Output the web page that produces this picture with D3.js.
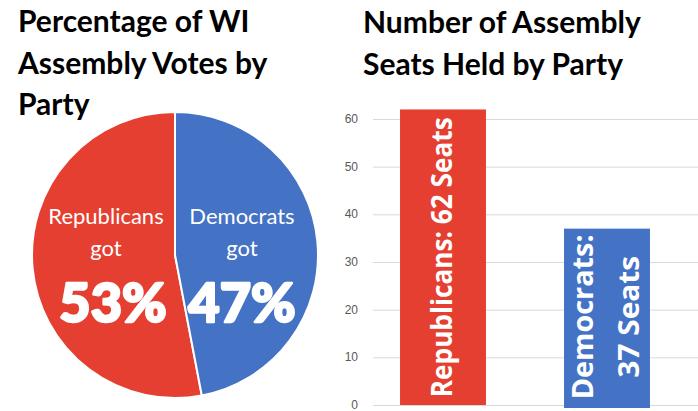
<!DOCTYPE html>
<html lang="en">
<head>
<meta charset="UTF-8">
<title>WI Assembly</title>
<style>
    body { margin: 0; background: #fff; }
    svg { display: block; }
    .title { font-family: 'Lato', sans-serif; font-weight: bold; font-size: 30px; fill: #000; }
    .tick text { font-family: 'Liberation Sans', sans-serif; font-size: 12px; fill: #595959; }
</style>
</head>
<body>
<div id="chart"></div>
<script src="https://d3js.org/d3.v7.min.js"></script>
<script>
    const parties = ["Republicans", "Democrats"];
    const colors = ["#e53f32", "#4472c4"];
    const votePct = [53, 47];
    const seats = [62, 37];
    const yTicks = [0, 10, 20, 30, 40, 50, 60];
    const leftTitle = ["Percentage of WI", "Assembly Votes by", "Party"];
    const rightTitle = ["Number of Assembly", "Seats Held by Party"];

    const width = 698, height = 411;
    const svg = d3.select('#chart').append('svg')
        .attr('width', width).attr('height', height);

    // titles
    svg.append('text').attr('class', 'title')
        .selectAll('tspan').data(leftTitle).enter().append('tspan')
        .attr('x', 18).attr('y', (d, i) => 32 + i * 41.5).text(d => d);
    svg.append('text').attr('class', 'title')
        .selectAll('tspan').data(rightTitle).enter().append('tspan')
        .attr('x', 363).attr('y', (d, i) => 33 + i * 41.5).text(d => d);

    // pie
    const cx = 175, cy = 255, r = 143;
    const pieData = parties.map((p, i) => ({ party: p, value: votePct[i], color: colors[i] }));
    // democrats clockwise from 12 o'clock, republicans fill the rest
    const pie = d3.pie().value(d => d.value).sort(null)
        .startAngle(2 * Math.PI).endAngle(0);
    const arc = d3.arc().innerRadius(0).outerRadius(r);
    const g = svg.append('g').attr('transform', `translate(${cx},${cy})`);
    g.selectAll('path').data(pie(pieData)).enter().append('path')
        .attr('d', arc)
        .attr('fill', d => d.data.color)
        .attr('stroke', '#fff')
        .attr('stroke-width', 2);

    const pieLabels = [
        { x: 106, words: [parties[0], "got"] },
        { x: 242, words: [parties[1], "got"] }
    ];
    pieLabels.forEach((l, i) => {
        svg.append('text')
            .attr('text-anchor', 'middle')
            .style('font-family', "'Lato', sans-serif")
            .style('font-size', '22px')
            .style('font-weight', 400)
            .attr('fill', '#fff')
            .selectAll('tspan').data(l.words).enter().append('tspan')
            .attr('x', l.x).attr('y', (d, j) => 224 + j * 32).text(d => d);
        svg.append('text')
            .attr('x', i === 0 ? 113 : 242).attr('y', 322)
            .attr('text-anchor', 'middle')
            .style('font-family', "'Lato', sans-serif")
            .style('font-size', '54px')
            .style('font-weight', 900)
            .attr('fill', '#fff')
            .attr('stroke', '#fff')
            .attr('stroke-width', 2.5)
            .attr('stroke-linejoin', 'round')
            .text(votePct[i] + '%');
    });

    // bar chart
    const y = d3.scaleLinear().domain([0, 60]).range([405, 119]);
    const x = d3.scaleBand().domain(parties).range([361, 689])
        .paddingInner(0.476).paddingOuter(0.238);

    const axis = svg.append('g').attr('transform', 'translate(373,0)')
        .call(d3.axisLeft(y).tickValues(yTicks).tickSize(-(width - 373)).tickPadding(15));
    axis.select('.domain').remove();
    axis.selectAll('.tick line').attr('stroke', '#d9d9d9').attr('stroke-width', 1);
    axis.selectAll('.tick text').attr('dy', '0.3em');

    svg.selectAll('rect.bar').data(parties).enter().append('rect')
        .attr('class', 'bar')
        .attr('x', d => x(d))
        .attr('y', (d, i) => y(seats[i]))
        .attr('width', x.bandwidth())
        .attr('height', (d, i) => y(0) - y(seats[i]) + (i === 1 ? 3 : 0))
        .attr('fill', (d, i) => colors[i]);

    const barLabels = [
        { lines: [parties[0] + ": " + seats[0] + " Seats"], lens: [280] },
        { lines: [parties[1] + ":", seats[1] + " Seats"], lens: [165, 122] }
    ];
    barLabels.forEach((b, i) => {
        const bx = x(parties[i]) + x.bandwidth() / 2;
        const by = (y(seats[i]) + y(0)) / 2;
        const n = b.lines.length;
        b.lines.forEach((line, j) => {
            const off = (j - (n - 1) / 2) * 46 + 9;
            svg.append('text')
                .attr('transform', `translate(${bx + off},${by}) rotate(-90)`)
                .attr('text-anchor', 'middle')
                .attr('textLength', b.lens[j])
                .attr('lengthAdjust', 'spacingAndGlyphs')
                .style('font-family', "'Open Sans', sans-serif")
                .style('font-size', '29px')
                .style('font-weight', 'bold')
                .attr('fill', '#fff')
                .text(line);
        });
    });
</script>
</body>
</html>
